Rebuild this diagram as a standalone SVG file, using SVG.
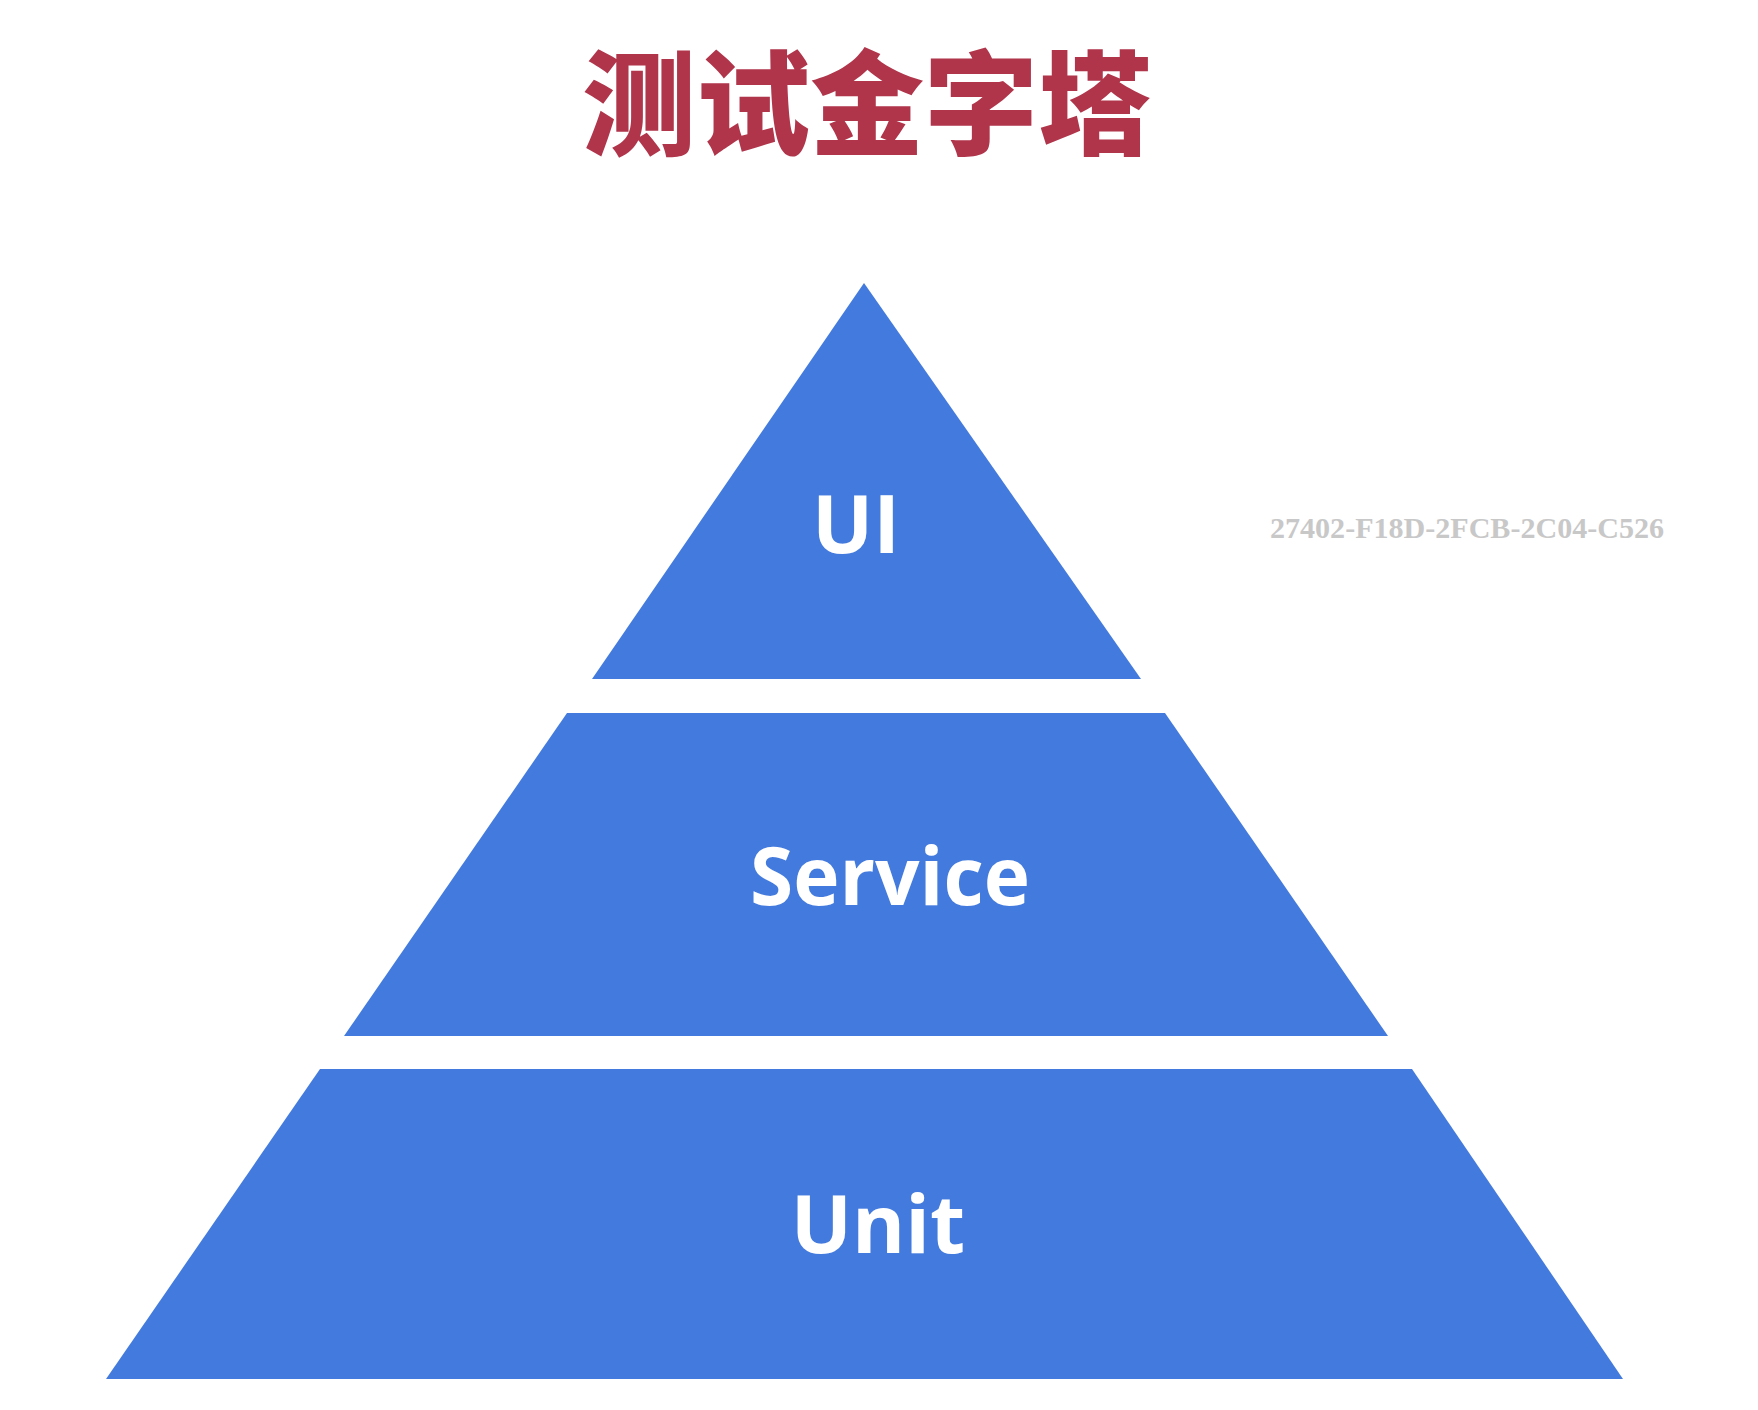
<svg xmlns="http://www.w3.org/2000/svg" width="1758" height="1410" viewBox="0 0 1758 1410">
<style>
.tier{fill:#437add}
.lbl{font-family:"Open Sans","DejaVu Sans",sans-serif;font-weight:700;font-size:81px;fill:#ffffff;text-anchor:middle}
.title{font-family:"Noto Sans CJK SC","Noto Sans CJK TC",sans-serif;font-weight:900;font-size:114px;fill:#b0354b;text-anchor:middle}
.wm{font-family:"Liberation Serif","DejaVu Serif",serif;font-weight:700;font-size:30px;fill:#c8c8c8}
</style>
<rect width="1758" height="1410" fill="#ffffff"/>
<g id="title"><text class="title" x="867" y="146">测试金字塔</text></g>
<g id="watermark"><text class="wm" x="1270" y="538" textLength="394" lengthAdjust="spacingAndGlyphs">27402-F18D-2FCB-2C04-C526</text></g>
<g id="ui">
<polygon class="tier" points="864,283 1141,679 592,679"/>
<text class="lbl" x="856" y="553">UI</text>
</g>
<g id="service">
<polygon class="tier" points="567,713 1165,713 1388,1036 344,1036"/>
<text class="lbl" x="890" y="905" textLength="280" lengthAdjust="spacingAndGlyphs">Service</text>
</g>
<g id="unit">
<polygon class="tier" points="320,1069 1412,1069 1623,1379 106,1379"/>
<text class="lbl" x="878" y="1253">Unit</text>
</g>
<g id="connectors"/>
</svg>
